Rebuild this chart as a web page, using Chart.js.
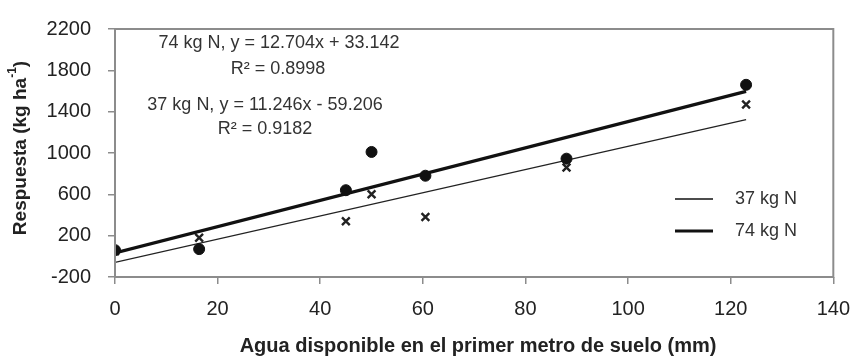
<!DOCTYPE html>
<html>
<head>
<meta charset="utf-8">
<script src="https://cdn.jsdelivr.net/npm/chart.js@4.4.1/dist/chart.umd.min.js"></script>
<style>
html,body{margin:0;padding:0;background:#fff;}
#wrap{width:863px;height:357px;position:relative;}
</style>
</head>
<body>
<div id="wrap"><canvas id="c" width="863" height="357"></canvas></div>
<script>
// Data
const waterX = [0, 16.4, 45, 50, 60.5, 88, 123];
const resp74 = [60, 70, 640, 1010, 780, 945, 1660];
const resp37 = [50, 180, 340, 600, 380, 860, 1470];
const trendX = [0, 123];
const trend74 = [33, 1596];
const trend37 = [-59, 1324];
const xTicks = [0, 20, 40, 60, 80, 100, 120, 140];
const yTicks = [-200, 200, 600, 1000, 1400, 1800, 2200];
const seriesNames = ['37 kg N', '74 kg N'];
const eqTexts = ['74 kg N, y = 12.704x + 33.142', 'R² = 0.8998', '37 kg N, y = 11.246x - 59.206', 'R² = 0.9182'];
const xTitle = 'Agua disponible en el primer metro de suelo (mm)';

const FONT = '"Liberation Sans", Arial, sans-serif';
const pts = (xs, ys) => xs.map((x, i) => ({x: x, y: ys[i]}));

const overlay = {
  id: 'overlay',
  afterDraw(chart) {
    const ctx = chart.ctx, a = chart.chartArea;
    ctx.save();
    // frame
    ctx.strokeStyle = '#8c8c8c';
    ctx.lineWidth = 2;
    ctx.strokeRect(a.left, a.top, a.right - a.left, a.bottom - a.top);
    // equations
    ctx.fillStyle = '#333';
    ctx.font = '18px ' + FONT;
    ctx.textAlign = 'center';
    ctx.textBaseline = 'middle';
    ctx.fillText(eqTexts[0], 279, 43);
    ctx.fillText(eqTexts[1], 278, 69);
    ctx.fillText(eqTexts[2], 265, 105);
    ctx.fillText(eqTexts[3], 265, 129);
    // legend
    ctx.strokeStyle = '#111';
    ctx.lineWidth = 1.3;
    ctx.beginPath(); ctx.moveTo(675, 199); ctx.lineTo(713, 199); ctx.stroke();
    ctx.lineWidth = 3.2;
    ctx.beginPath(); ctx.moveTo(675, 231); ctx.lineTo(713, 231); ctx.stroke();
    ctx.textAlign = 'left';
    ctx.fillText(seriesNames[0], 735, 199);
    ctx.fillText(seriesNames[1], 735, 231);
    // x title
    ctx.font = 'bold 20px ' + FONT;
    ctx.textAlign = 'center';
    ctx.fillStyle = '#222';
    ctx.fillText(xTitle, 478, 346);
    // y title with superscript
    ctx.translate(21, 148);
    ctx.rotate(-Math.PI / 2);
    const p1 = 'Respuesta (kg ha', sup = '-1', p3 = ')';
    ctx.font = 'bold 19px ' + FONT;
    const w1 = ctx.measureText(p1).width, w3 = ctx.measureText(p3).width;
    ctx.font = 'bold 12px ' + FONT;
    const w2 = ctx.measureText(sup).width;
    const total = w1 + w2 + w3;
    let x0 = -total / 2;
    ctx.textAlign = 'left';
    ctx.font = 'bold 19px ' + FONT;
    ctx.fillText(p1, x0, 0);
    ctx.font = 'bold 12px ' + FONT;
    ctx.fillText(sup, x0 + w1, -8);
    ctx.font = 'bold 19px ' + FONT;
    ctx.fillText(p3, x0 + w1 + w2, 0);
    ctx.restore();
  }
};

new Chart(document.getElementById('c'), {
  type: 'scatter',
  data: {
    datasets: [
      {label: seriesNames[1] + ' obs', data: pts(waterX, resp74), pointStyle: 'circle', pointRadius: 5.5,
       backgroundColor: '#111', borderColor: '#111', showLine: false},
      {label: seriesNames[0] + ' obs', data: pts(waterX, resp37), pointStyle: 'crossRot', pointRadius: 5.5,
       borderWidth: 2.4, borderColor: '#222', backgroundColor: '#222', showLine: false},
      {label: seriesNames[1], data: pts(trendX, trend74), showLine: true, pointRadius: 0,
       borderColor: '#111', borderWidth: 3.2},
      {label: seriesNames[0], data: pts(trendX, trend37), showLine: true, pointRadius: 0,
       borderColor: '#222', borderWidth: 1.3}
    ]
  },
  options: {
    responsive: false,
    animation: false,
    events: [],
    layout: {padding: {left: 0, right: 24, top: 20, bottom: 0}},
    plugins: {legend: {display: false}, tooltip: {enabled: false}, title: {display: false}},
    scales: {
      x: {
        type: 'linear', min: 0, max: 140,
        afterBuildTicks: s => { s.ticks = xTicks.map(v => ({value: v})); },
        afterFit: s => { s.height = 80; },
        grid: {drawOnChartArea: false, drawTicks: true, tickLength: 7, color: '#8c8c8c', lineWidth: 1.5},
        border: {display: false},
        ticks: {font: {family: FONT, size: 20}, color: '#222', padding: 13, maxRotation: 0,
                callback: v => String(v)}
      },
      y: {
        type: 'linear', min: -200, max: 2200,
        afterBuildTicks: s => { s.ticks = yTicks.map(v => ({value: v})); },
        afterFit: s => { s.width = 115; },
        grid: {drawOnChartArea: false, drawTicks: true, tickLength: 7, color: '#8c8c8c', lineWidth: 1.5},
        border: {display: false},
        ticks: {font: {family: FONT, size: 20}, color: '#222', padding: 17,
                callback: v => String(v)}
      }
    }
  },
  plugins: [overlay]
});
</script>
</body>
</html>
